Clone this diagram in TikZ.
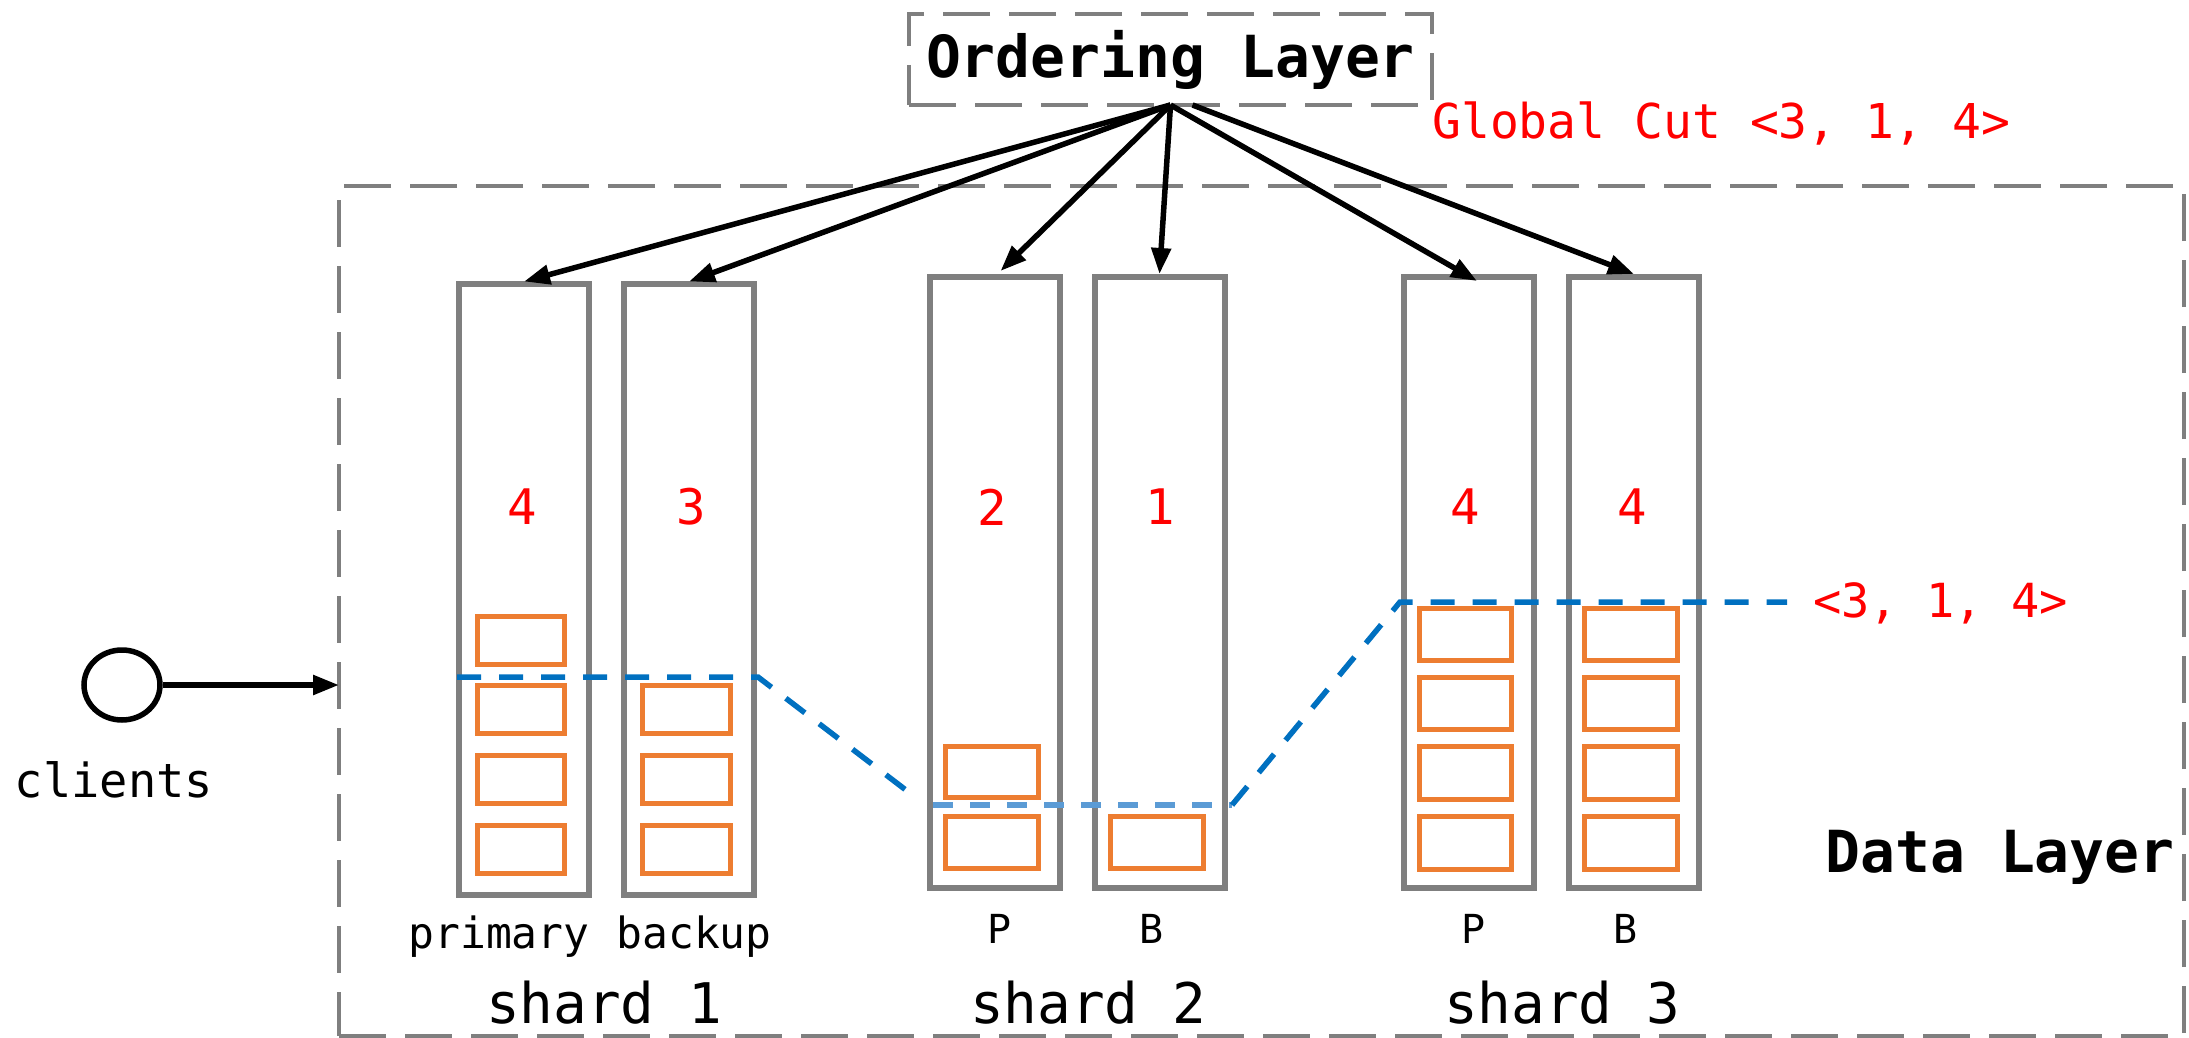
\documentclass[tikz,border=0pt]{standalone}
\usepackage{fontspec}
\newfontfamily\mono{DejaVu Sans Mono}
\usetikzlibrary{arrows.meta,shapes.geometric,calc}
\definecolor{cgray}{HTML}{7F7F7F}
\definecolor{corange}{HTML}{ED7D31}
\definecolor{cblue}{HTML}{0070C0}
\definecolor{clblue}{HTML}{5B9BD5}
\definecolor{cred}{HTML}{FF0000}
\newcommand{\fs}[1]{\fontsize{#1}{#1}\selectfont}
\tikzset{
  layerbox/.style={draw=cgray, line width=4.5pt, dash pattern=on 47pt off 19pt, inner sep=0pt, outer sep=0pt},
  column/.style={draw=cgray, line width=6pt, minimum width=130pt, minimum height=611pt, inner sep=0pt, outer sep=0pt},
  entry/.style={draw=corange, line width=5.5pt},
  cutline/.style={draw=cblue, line width=5.5pt, dash pattern=on 24pt off 18pt},
  cutlight/.style={draw=clblue, line width=5.5pt, dash pattern=on 20pt off 17pt},
  order/.style={line width=5.5pt, -{Triangle[length=26pt,width=19pt]}},
  rednum/.style={text=cred, font=\mono\fs{49}, inner sep=0pt},
  smalllab/.style={font=\mono\fs{40}, inner sep=0pt, anchor=base},
  shardlab/.style={font=\mono\fs{56}, inner sep=0pt, anchor=base},
}
\begin{document}
\begin{tikzpicture}[x=1pt,y=-1pt]
\useasboundingbox (0,0) rectangle (2189,1038);
% layers
\node[layerbox, minimum width=523pt, minimum height=91pt, font=\mono\bfseries\fs{58}] (ord) at (1170.5,59.5) {Ordering Layer};
\node[layerbox, minimum width=1845pt, minimum height=850pt] (dl) at (1261.5,611) {};
\node[font=\mono\bfseries\fs{58}, inner sep=0pt, anchor=base] (dltxt) at (2000,872) {Data Layer};
\node[text=cred, font=\mono\fs{48}, inner sep=0pt, anchor=base west] (gc) at (1432,139) {Global Cut <3, 1, 4>};
% columns
\node[column] (s1p) at (524,589) {};
\node[column] (s1b) at (689,589) {};
\node[column] (s2p) at (994.5,582.5) {};
\node[column] (s2b) at (1159.5,582.5) {};
\node[column] (s3p) at (1469,582.5) {};
\node[column] (s3b) at (1634,582.5) {};
% numbers
\node[rednum] (n1p) at (522,507) {4};
\node[rednum] (n1b) at (691,507) {3};
\node[rednum] (n2p) at (992,507) {2};
\node[rednum] (n2b) at (1160,507) {1};
\node[rednum] (n3p) at (1465,507) {4};
\node[rednum] (n3b) at (1632,507) {4};
% entries shard 1
\foreach \ya/\yb in {616.5/664.5,685.5/733.5,755.5/803.5,825.5/873.5}
  \draw[entry] (477.5,\ya) rectangle (564.5,\yb);
\foreach \ya/\yb in {685.5/733.5,755.5/803.5,825.5/873.5}
  \draw[entry] (642.5,\ya) rectangle (730.5,\yb);
% shard 2
\foreach \ya/\yb in {746.5/797.5,816.5/868.5}
  \draw[entry] (945.5,\ya) rectangle (1038.5,\yb);
\draw[entry] (1110.5,816.5) rectangle (1203.5,868.5);
% shard 3
\foreach \ya/\yb in {608.5/660.5,677.5/729.5,746.5/799.5,816.5/869.5}{
  \draw[entry] (1419.5,\ya) rectangle (1511.5,\yb);
  \draw[entry] (1584.5,\ya) rectangle (1677.5,\yb);
}
% cut lines
\draw[cutline] (457,677) -- (758,677) -- (915,797);
\draw[cutlight] (933,805) -- (1232,805);
\draw[cutline] (1232,805) -- (1400,602) -- (1787,602);
\node[text=cred, font=\mono\fs{47}, inner sep=0pt, anchor=base west] (cut) at (1813,617) {<3, 1, 4>};
% arrows from ordering layer
\draw[order] (ord.south) -- ([yshift=2pt]s1p.north);
\draw[order] (ord.south) -- ([yshift=2pt]s1b.north);
\draw[order] (ord.south) -- ([xshift=6pt,yshift=6pt]s2p.north);
\draw[order] (ord.south) -- ([yshift=3pt]s2b.north);
\draw[order] (ord.south) -- ([xshift=8pt,yshift=-4pt]s3p.north);
\draw[order] ([xshift=22pt]ord.south) -- ([yshift=3pt]s3b.north);
% labels
\node[smalllab, font=\mono\fs{43}] (lp1) at (499,948) {primary};
\node[smalllab, font=\mono\fs{43}] (lb1) at (694,948) {backup};
\node[smalllab] (lp2) at (1000,943) {P};
\node[smalllab] (lb2) at (1152,943) {B};
\node[smalllab] (lp3) at (1474,943) {P};
\node[smalllab] (lb3) at (1626,943) {B};
\node[shardlab] (sh1) at (604,1023) {shard 1};
\node[shardlab] (sh2) at (1088,1023) {shard 2};
\node[shardlab] (sh3) at (1562,1023) {shard 3};
% clients
\node[draw, ellipse, line width=5.5pt, minimum width=76pt, minimum height=70pt, inner sep=0pt] (cl) at (122,685) {};
\node[font=\mono\fs{47}, inner sep=0pt, anchor=base] (cltxt) at (114,797) {clients};
\draw[order] (cl.east) -- (cl -| dl.west);
\end{tikzpicture}
\end{document}
